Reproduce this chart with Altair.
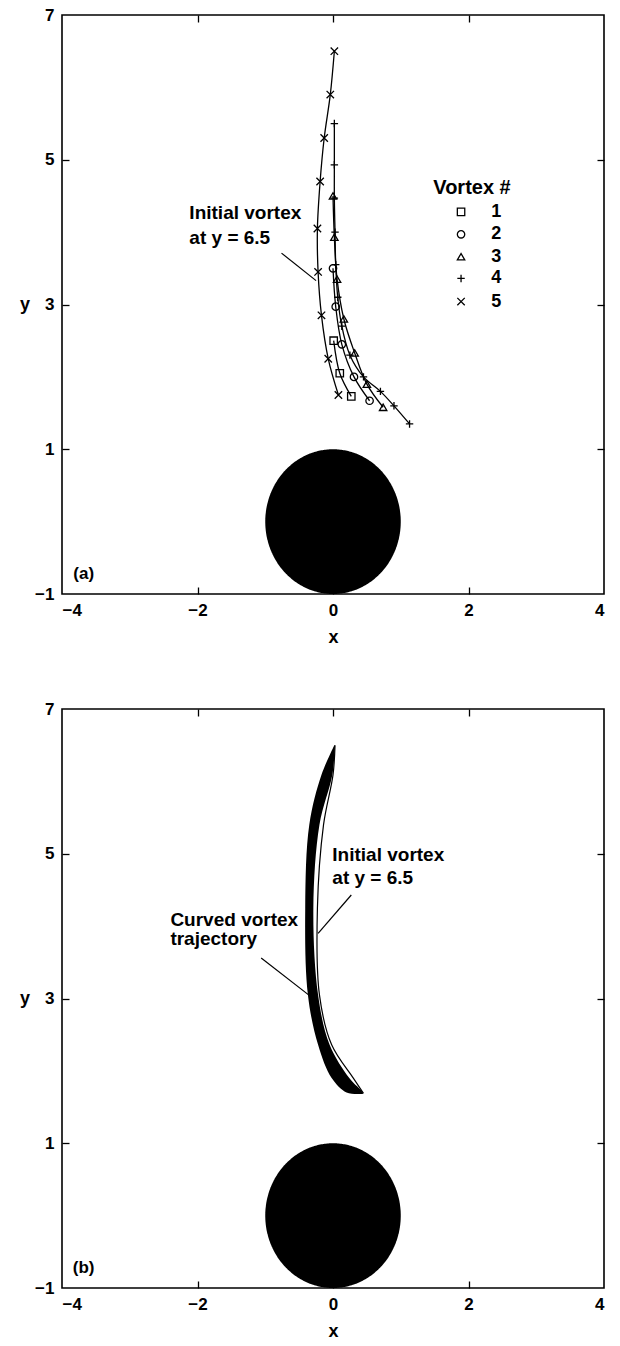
import altair as alt
import numpy as np
import pandas as pd

# ---------------------------------------------------------------- layout
W, H = 542, 579
FONT = "Liberation Sans"
X_DOMAIN = [-4, 4]
Y_DOMAIN = [-1, 7]
X_TICKS = [-4, -2, 0, 2, 4]
Y_TICKS = [-1, 1, 3, 5, 7]
INNER_X = [-2, 0, 2]
INNER_Y = [1, 3, 5]

# ---------------------------------------------------------------- panel (a): five vortex trajectories
v1_x = [0.01, 0.10, 0.27]
v1_y = [2.50, 2.05, 1.73]
v2_x = [0.00, 0.04, 0.13, 0.31, 0.54]
v2_y = [3.50, 2.97, 2.45, 2.00, 1.67]
v3_x = [0.00, 0.02, 0.06, 0.16, 0.32, 0.50, 0.74]
v3_y = [4.50, 3.93, 3.35, 2.80, 2.33, 1.90, 1.58]
v4_x = [0.02, 0.02, 0.02, 0.03, 0.04, 0.07, 0.13, 0.25, 0.45, 0.70, 0.90, 1.13]
v4_y = [5.50, 4.93, 4.47, 4.00, 3.55, 3.10, 2.70, 2.30, 2.00, 1.80, 1.60, 1.35]
v5_x = [0.02, -0.04, -0.13, -0.19, -0.23, -0.22, -0.17, -0.07, 0.08]
v5_y = [6.50, 5.90, 5.30, 4.70, 4.05, 3.45, 2.85, 2.25, 1.75]

vortex_ids = ["1", "2", "3", "4", "5"]
PLUS = "M-1,0L1,0M0,-1L0,1"
CROSS = "M-1,-1L1,1M-1,1L1,-1"
vortex_shapes = ["square", "circle", "triangle-up", PLUS, CROSS]

# legend block of panel (a)
legend_title = "Vortex #"
legend_title_pos = (1.48, 4.61)
legend_sym_x = 1.89
legend_num_x = 2.41
legend_row_y = [4.28, 3.97, 3.66, 3.36, 3.04]

# annotation of panel (a)
ann_a_lines = ["Initial vortex", "at y = 6.5"]
ann_a_x = -2.12
ann_a_y = [4.27, 3.92]
lead_a_x = [-0.76, -0.25]
lead_a_y = [3.71, 3.33]

# ---------------------------------------------------------------- panel (b): curved vortex band
band_y = [6.50, 6.09, 5.40, 4.25, 3.05, 2.36, 1.90, 1.70, 1.68]
band_xl = [0.02, -0.17, -0.35, -0.41, -0.37, -0.22, -0.02, 0.20, 0.40]
band_xr = [0.03, -0.01, -0.20, -0.29, -0.22, -0.05, 0.24, 0.44, 0.44]
init_y = [6.50, 6.09, 5.40, 4.25, 3.05, 2.36, 1.90, 1.69]
init_x = [0.03, 0.00, -0.14, -0.23, -0.20, -0.02, 0.30, 0.45]

ann_b1_lines = ["Initial vortex", "at y = 6.5"]
ann_b1_x = -0.01
ann_b1_y = [4.98, 4.67]
lead_b1_x = [0.27, -0.22]
lead_b1_y = [4.43, 3.90]

ann_b2_lines = ["Curved vortex", "trajectory"]
ann_b2_x = -2.40
ann_b2_y = [4.09, 3.82]
lead_b2_x = [-1.06, -0.36]
lead_b2_y = [3.56, 3.05]

# cylinder (unit circle at the origin)
cyl_cx, cyl_cy, cyl_r = 0.0, 0.0, 1.0
panel_label_pos = (-3.68, -0.73)

# ---------------------------------------------------------------- tables
traj_rows = []
for vid, xs, ys in zip(vortex_ids, [v1_x, v2_x, v3_x, v4_x, v5_x],
                       [v1_y, v2_y, v3_y, v4_y, v5_y]):
    for i, (x, y) in enumerate(zip(xs, ys)):
        traj_rows.append({"vortex": vid, "step": i, "x": x, "y": y})
traj = pd.DataFrame(traj_rows)

theta = np.linspace(-np.pi / 2, np.pi / 2, 181)
cyl = pd.DataFrame({
    "y": cyl_cy + cyl_r * np.sin(theta),
    "xl": cyl_cx - cyl_r * np.cos(theta),
    "xr": cyl_cx + cyl_r * np.cos(theta),
})

xs = alt.Scale(domain=X_DOMAIN, nice=False, zero=False)
ys = alt.Scale(domain=Y_DOMAIN, nice=False, zero=False)
shape_scale = alt.Scale(domain=vortex_ids, range=vortex_shapes)


def X(field, axis=None):
    return alt.X(field, scale=xs, axis=axis)


def Y(field, axis=None):
    return alt.Y(field, scale=ys, axis=axis)


def text_block(lines, x, ys_, align="left", size=19):
    df = pd.DataFrame({"t": lines, "x": [x] * len(lines), "y": ys_})
    return alt.Chart(df).mark_text(
        align=align, baseline="middle", font=FONT, fontSize=size,
        fontWeight="bold", color="black"
    ).encode(x=X("x:Q"), y=Y("y:Q"), text="t:N")


def leader(lx, ly):
    df = pd.DataFrame({"x": lx, "y": ly})
    return alt.Chart(df).mark_line(color="black", strokeWidth=1.2).encode(
        x=X("x:Q"), y=Y("y:Q"))


def frame_layers(label):
    """Labelled axes, inward tick marks on all four sides, cylinder and panel tag."""
    main_x = alt.Axis(values=X_TICKS, format="d", title="x", tickSize=0, domain=False,
                      grid=False, labelFont=FONT, labelFontSize=17, labelFontWeight="bold",
                      labelPadding=8, labelColor="black", titleFont=FONT, titleFontSize=18,
                      titleFontWeight="bold", titlePadding=10, titleColor="black")
    main_y = alt.Axis(values=Y_TICKS, format="d", title="y", tickSize=0, domain=False,
                      grid=False, labelFont=FONT, labelFontSize=17, labelFontWeight="bold",
                      labelPadding=8, labelColor="black", titleFont=FONT, titleFontSize=18,
                      titleFontWeight="bold", titleAngle=0, titleBaseline="middle",
                      titleAlign="center", titlePadding=10, titleColor="black")
    cylinder = alt.Chart(cyl).mark_area(orient="horizontal", color="black").encode(
        y=Y("y:Q", main_y), x=X("xl:Q", main_x), x2="xr:Q")

    tick_kw = dict(labels=False, domain=False, grid=False, ticks=True, tickSize=7,
                   tickWidth=1.3, tickColor="black", title=None)
    ticks1 = alt.Chart(cyl).mark_point(opacity=0).encode(
        x=X("xl:Q", alt.Axis(orient="top", offset=-H, values=INNER_X, **tick_kw)),
        y=Y("y:Q", alt.Axis(orient="right", offset=-W, values=INNER_Y, **tick_kw)))
    ticks2 = alt.Chart(cyl).mark_point(opacity=0).encode(
        x=X("xl:Q", alt.Axis(orient="bottom", offset=-H, values=INNER_X, **tick_kw)),
        y=Y("y:Q", alt.Axis(orient="left", offset=-W, values=INNER_Y, **tick_kw)))
    tag = text_block([label], panel_label_pos[0], [panel_label_pos[1]], align="center", size=17)
    return [cylinder, ticks1, ticks2, tag]


# ---------------------------------------------------------------- panel (a)
MARK_SIZE = 55
lines_a = alt.Chart(traj).mark_line(color="black", strokeWidth=1.3,
                                    interpolate="catmull-rom").encode(
    x=X("x:Q"), y=Y("y:Q"), detail="vortex:N", order="step:Q")
points_a = alt.Chart(traj).mark_point(filled=False, color="black", size=MARK_SIZE,
                                      strokeWidth=1.3, opacity=1).encode(
    x=X("x:Q"), y=Y("y:Q"),
    shape=alt.Shape("vortex:N", scale=shape_scale, legend=None))

leg_df = pd.DataFrame({"vortex": vortex_ids, "x": [legend_sym_x] * 5, "y": legend_row_y,
                       "nx": [legend_num_x] * 5})
leg_sym = alt.Chart(leg_df).mark_point(filled=False, color="black", size=MARK_SIZE,
                                       strokeWidth=1.3, opacity=1).encode(
    x=X("x:Q"), y=Y("y:Q"), shape=alt.Shape("vortex:N", scale=shape_scale, legend=None))
leg_num = alt.Chart(leg_df).mark_text(font=FONT, fontSize=18, fontWeight="bold",
                                      color="black", align="center", baseline="middle").encode(
    x=X("nx:Q"), y=Y("y:Q"), text="vortex:N")
leg_title = text_block([legend_title], legend_title_pos[0], [legend_title_pos[1]], size=20)

panel_a = alt.layer(
    *frame_layers("(a)"),
    lines_a, points_a,
    leg_title, leg_sym, leg_num,
    text_block(ann_a_lines, ann_a_x, ann_a_y), leader(lead_a_x, lead_a_y),
).resolve_axis(x="independent", y="independent").properties(width=W, height=H)

# ---------------------------------------------------------------- panel (b)
band_df = pd.DataFrame({"y": band_y, "xl": band_xl, "xr": band_xr})
band = alt.Chart(band_df).mark_area(orient="horizontal", color="black",
                                    interpolate="catmull-rom").encode(
    y=Y("y:Q"), x=X("xl:Q"), x2="xr:Q")
init_df = pd.DataFrame({"x": init_x, "y": init_y, "step": range(len(init_x))})
init_line = alt.Chart(init_df).mark_line(color="black", strokeWidth=1.2,
                                         interpolate="catmull-rom").encode(
    x=X("x:Q"), y=Y("y:Q"), order="step:Q")

panel_b = alt.layer(
    *frame_layers("(b)"),
    band, init_line,
    text_block(ann_b1_lines, ann_b1_x, ann_b1_y), leader(lead_b1_x, lead_b1_y),
    text_block(ann_b2_lines, ann_b2_x, ann_b2_y), leader(lead_b2_x, lead_b2_y),
).resolve_axis(x="independent", y="independent").properties(width=W, height=H)

chart = alt.vconcat(panel_a, panel_b, spacing=52).properties(
    padding={"left": 18, "top": 5, "right": 2, "bottom": 2},
    background="white",
).configure_view(stroke="black", strokeWidth=1.6)

chart.save("out.html", embed_options={"renderer": "svg", "actions": False})
